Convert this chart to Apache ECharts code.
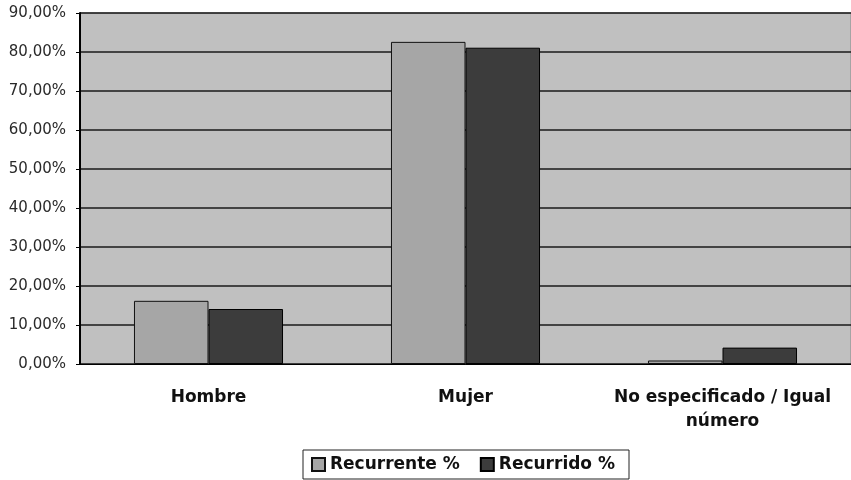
<!DOCTYPE html>
<html>
<head>
<meta charset="utf-8">
<script src="https://cdn.jsdelivr.net/npm/echarts@6/dist/echarts.min.js"></script>
<style>
  html, body { margin: 0; padding: 0; background: #ffffff; }
  #chart { width: 851px; height: 480px; }
</style>
</head>
<body>
<div id="chart"></div>
<script>
// Categories and values (percent)
var categories = ['Hombre', 'Mujer', 'No especificado / Igual\nnúmero'];
var recurrente = [16.2, 82.6, 0.9];
var recurrido = [14.1, 81.1, 4.2];
var seriesNames = ['Recurrente %', 'Recurrido %'];

var chart = echarts.init(document.getElementById('chart'));

function pct(v) {
  return v.toFixed(2).replace('.', ',') + '%';
}

chart.setOption({
  animation: false,
  backgroundColor: '#ffffff',
  grid: {
    left: 80,
    top: 13,
    width: 777,
    height: 351,
    show: true,
    backgroundColor: '#c0c0c0',
    borderColor: '#888888',
    borderWidth: 1
  },
  legend: {
    bottom: 1,
    left: 303,
    data: seriesNames,
    itemWidth: 13,
    itemHeight: 13,
    itemGap: 20,
    icon: 'rect',
    padding: [6, 14, 6, 8],
    borderColor: '#222222',
    borderWidth: 1,
    textStyle: {
      fontFamily: 'DejaVu Sans, sans-serif',
      fontWeight: 'bold',
      fontSize: 17,
      color: '#111111',
      padding: [0, 0, 0, 0]
    }
  },
  xAxis: {
    type: 'category',
    data: categories,
    axisLine: { show: true, lineStyle: { color: '#000000', width: 1 } },
    axisTick: { show: false },
    axisLabel: {
      interval: 0,
      hideOverlap: false,
      margin: 22,
      fontFamily: 'DejaVu Sans, sans-serif',
      fontWeight: 'bold',
      fontSize: 17,
      lineHeight: 24,
      color: '#111111'
    }
  },
  yAxis: {
    type: 'value',
    min: 0,
    max: 90,
    interval: 10,
    axisLine: { show: true, lineStyle: { color: '#000000', width: 2 } },
    axisTick: { show: true, length: 4, lineStyle: { color: '#000000', width: 1 } },
    splitLine: { show: true, lineStyle: { color: '#1a1a1a', width: 1.5 } },
    axisLabel: {
      margin: 14,
      formatter: pct,
      fontFamily: 'DejaVu Sans, sans-serif',
      fontSize: 15,
      color: '#2a2a2a'
    }
  },
  series: [
    {
      name: seriesNames[0],
      type: 'bar',
      data: recurrente,
      barGap: '0%',
      barCategoryGap: '42%',
      itemStyle: { color: '#a6a6a6', borderColor: '#111111', borderWidth: 1 }
    },
    {
      name: seriesNames[1],
      type: 'bar',
      data: recurrido,
      barGap: '0%',
      barCategoryGap: '42%',
      itemStyle: { color: '#3c3c3c', borderColor: '#000000', borderWidth: 1 }
    }
  ]
});
</script>
</body>
</html>
